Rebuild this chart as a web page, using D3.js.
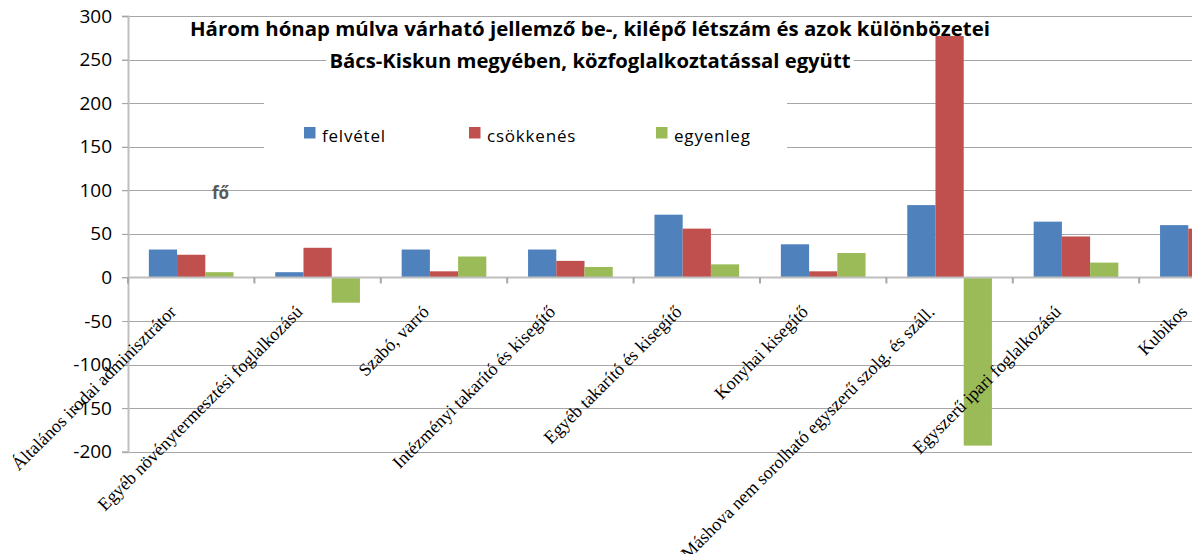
<!DOCTYPE html>
<html>
<head>
<meta charset="utf-8">
<script src="https://cdn.jsdelivr.net/npm/d3@7"></script>
<style>
  html, body { margin: 0; padding: 0; background: #fff; overflow: hidden; }
  svg { display: block; }
</style>
</head>
<body>
<svg id="chart"></svg>
<script>
// Chart data
const categories = [
  "Általános irodai adminisztrátor",
  "Egyéb növénytermesztési foglalkozású",
  "Szabó, varró",
  "Intézményi takarító és kisegítő",
  "Egyéb takarító és kisegítő",
  "Konyhai kisegítő",
  "Máshova nem sorolható egyszerű szolg. és száll.",
  "Egyszerű ipari foglalkozású",
  "Kubikos"
];
const seriesNames = ["felvétel", "csökkenés", "egyenleg"];
const felvetel  = [32, 6, 32, 32, 72, 38, 83, 64, 60];
const csokkenes = [26, 34, 7, 19, 56, 7, 277, 47, 56];
const egyenleg  = [6, -29, 24, 12, 15, 28, -193, 17, 4];
const yTicks = [-200, -150, -100, -50, 0, 50, 100, 150, 200, 250, 300];
const titleLines = [
  "Három hónap múlva várható jellemző be-, kilépő létszám és azok különbözetei",
  "Bács-Kiskun megyében, közfoglalkoztatással együtt"
];
const unitLabel = "fő";

const colors = ["#4F81BD", "#C0504D", "#9BBB59"];

const width = 1192, height = 554;
// plot area (the last category runs past the right edge, as in the original)
const plotLeft = 128, catStep = 126.4;

const svg = d3.select("#chart")
  .attr("width", width)
  .attr("height", height);

const rows = categories.map((c, i) => ({
  cat: c,
  values: [felvetel[i], csokkenes[i], egyenleg[i]]
}));

// Scales
const x0 = d3.scaleBand()
  .domain(categories)
  .range([plotLeft, plotLeft + catStep * categories.length])
  .paddingInner(0.33)
  .paddingOuter(0.165);

const x1 = d3.scaleBand()
  .domain(seriesNames)
  .range([0, x0.bandwidth()]);

const y = d3.scaleLinear()
  .domain([-200, 300])
  .range([451.7, 16]);

// Gridlines
svg.append("g")
  .selectAll("line")
  .data(yTicks)
  .join("line")
  .attr("x1", plotLeft - 6)
  .attr("x2", width)
  .attr("y1", d => Math.round(y(d)) + 0.5)
  .attr("y2", d => Math.round(y(d)) + 0.5)
  .attr("stroke", "#A6A6A6")
  .attr("stroke-width", 1);

// Title (second line sits on a white box that hides the gridline)
const title = svg.append("g");
const titleY = [36, 68];
const titleLen = [800, 521];
titleLines.forEach((t, i) => {
  const txt = title.append("text")
    .attr("x", 590)
    .attr("y", titleY[i])
    .attr("text-anchor", "middle")
    .attr("font-family", "'Open Sans', sans-serif")
    .attr("font-weight", "bold")
    .attr("font-size", 19)
    .attr("textLength", titleLen[i])
    .attr("lengthAdjust", "spacingAndGlyphs")
    .attr("fill", "#000")
    .text(t);
  if (i === 1) {
    const bb = txt.node().getBBox();
    title.insert("rect", "text")
      .attr("x", bb.x - 3)
      .attr("y", bb.y)
      .attr("width", bb.width + 6)
      .attr("height", bb.height)
      .attr("fill", "#fff");
  }
});

// Legend on a white box
const legend = svg.append("g");
legend.append("rect")
  .attr("x", 264)
  .attr("y", 94)
  .attr("width", 523)
  .attr("height", 72)
  .attr("fill", "#fff");

const legendX = [304, 469, 656];
const items = legend.selectAll(".item")
  .data(seriesNames)
  .join("g")
  .attr("class", "item")
  .attr("transform", (d, i) => `translate(${legendX[i]},127)`);

items.append("rect")
  .attr("width", 11.5)
  .attr("height", 11.5)
  .attr("fill", (d, i) => colors[i]);

items.append("text")
  .attr("x", 18)
  .attr("y", 15)
  .attr("font-family", "'Open Sans', sans-serif")
  .attr("font-size", 17)
  .attr("letter-spacing", 0.8)
  .attr("fill", "#000")
  .text(d => d);

// Unit label
svg.append("text")
  .attr("x", 212)
  .attr("y", 199)
  .attr("font-family", "'Open Sans', sans-serif")
  .attr("font-weight", "bold")
  .attr("font-size", 17)
  .attr("fill", "#595959")
  .text(unitLabel);

// Bars
const groups = svg.append("g")
  .selectAll("g")
  .data(rows)
  .join("g")
  .attr("transform", d => `translate(${x0(d.cat)},0)`);

groups.selectAll("rect")
  .data(d => d.values.map((v, i) => ({ key: seriesNames[i], v: v, i: i })))
  .join("rect")
  .attr("x", d => x1(d.key))
  .attr("width", x1.bandwidth())
  .attr("y", d => y(Math.max(0, d.v)))
  .attr("height", d => Math.abs(y(d.v) - y(0)))
  .attr("fill", d => colors[d.i]);

// Y axis
const yAxis = d3.axisLeft(y)
  .tickValues(yTicks)
  .tickFormat(d => String(d))
  .tickSize(6)
  .tickPadding(10);

const yG = svg.append("g")
  .attr("transform", `translate(${plotLeft},0)`)
  .call(yAxis);
yG.select(".domain").attr("stroke", "#BFBFBF").attr("stroke-width", 2);
yG.selectAll(".tick line").attr("stroke", "#A6A6A6");
yG.selectAll(".tick text")
  .attr("font-family", "'Open Sans', sans-serif")
  .attr("font-size", 19)
  .attr("fill", "#000");

// X axis on the zero line
const xG = svg.append("g");
xG.append("line")
  .attr("x1", plotLeft)
  .attr("x2", width)
  .attr("y1", y(0))
  .attr("y2", y(0))
  .attr("stroke", "#BFBFBF")
  .attr("stroke-width", 2);

xG.selectAll(".xtick")
  .data(d3.range(categories.length + 1))
  .join("line")
  .attr("class", "xtick")
  .attr("x1", i => plotLeft + i * x0.step())
  .attr("x2", i => plotLeft + i * x0.step())
  .attr("y1", y(0))
  .attr("y2", y(0) + 6)
  .attr("stroke", "#A6A6A6")
  .attr("stroke-width", 2);

// Rotated category labels
xG.selectAll(".xlabel")
  .data(categories)
  .join("text")
  .attr("class", "xlabel")
  .attr("transform", d => `translate(${x0(d) + x0.bandwidth() / 2 - 14},313) rotate(-45)`)
  .attr("text-anchor", "end")
  .attr("font-family", "'Liberation Serif', 'Times New Roman', serif")
  .attr("font-size", 18)
  .attr("fill", "#000")
  .text(d => d);
</script>
</body>
</html>
